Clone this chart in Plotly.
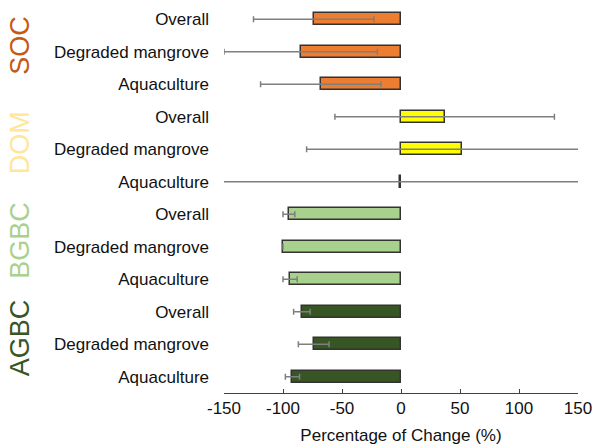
import plotly.graph_objects as go

groups = ["SOC", "DOM", "BGBC", "AGBC"]
sub_labels = ["Overall", "Degraded mangrove", "Aquaculture"]
group_colors = ["#ED7D31", "#FFFF00", "#A9D18E", "#375623"]
label_colors = ["#C55A11", "#FFE699", "#A9D18E", "#375623"]

# mean percentage change per group (Overall, Degraded mangrove, Aquaculture)
values = {
    "SOC": [-74, -85, -68],
    "DOM": [37, 52, -1],
    "BGBC": [-95, -100, -94],
    "AGBC": [-84, -74, -92],
}
errors = {
    "SOC": [51, 65, 51],
    "DOM": [93, 132, 200],
    "BGBC": [5, 0, 6],
    "AGBC": [7, 13, 6],
}

x_ticks = [-150, -100, -50, 0, 50, 100, 150]

fig = go.Figure()
all_cats = []
for g, col in zip(groups, group_colors):
    cats = [f"{g}|{s}" for s in sub_labels]
    all_cats += cats
    fig.add_trace(go.Bar(
        y=cats, x=values[g], orientation="h",
        marker=dict(color=col, line=dict(color="#333333", width=1.5)),
        width=0.37,
        error_x=dict(type="data", array=errors[g], symmetric=True,
                     color="#7F7F7F", thickness=1.5, width=3),
        showlegend=False,
    ))

annotations = []
for g, lc in zip(groups, label_colors):
    annotations.append(dict(
        text=g, xref="paper", yref="y", x=-0.576, y=f"{g}|{sub_labels[1]}",
        xanchor="center", yanchor="middle", textangle=-90, showarrow=False,
        yshift=6, font=dict(size=27, color=lc, family="Liberation Sans, Arial, sans-serif"),
    ))

fig.update_layout(
    width=594, height=446,
    margin=dict(l=224, r=16, t=3, b=53),
    plot_bgcolor="white", paper_bgcolor="white",
    font=dict(family="Liberation Sans, Arial, sans-serif", size=17, color="#111111"),
    annotations=annotations,
    bargap=0,
)
fig.update_xaxes(
    range=[-150, 150], tickvals=x_ticks, ticktext=[str(v) for v in x_ticks],
    showgrid=False, zeroline=False, showline=True, linecolor="#404040", linewidth=1,
    ticks="inside", ticklen=4, tickcolor="#404040",
    title=dict(text="Percentage of Change (%)", standoff=11, font=dict(size=17)),
)
fig.update_yaxes(
    type="category", categoryorder="array", categoryarray=all_cats,
    autorange="reversed", tickvals=all_cats,
    ticktext=[c.split("|")[1] for c in all_cats],
    showgrid=False, zeroline=False, showline=False, ticks="",
    ticklabelstandoff=14,
)

fig.write_html("out.html")
